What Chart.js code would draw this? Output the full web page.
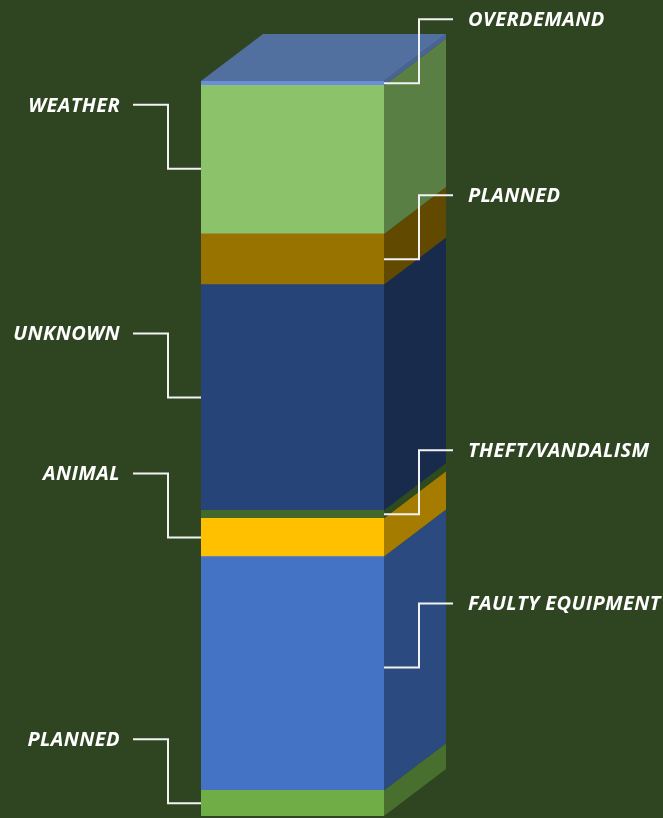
<!DOCTYPE html>
<html>
<head>
<meta charset="utf-8">
<script src="https://cdn.jsdelivr.net/npm/chart.js@4"></script>
<style>
  html, body { margin: 0; padding: 0; background: #2F4421; }
  canvas { display: block; }
</style>
</head>
<body>
<canvas id="outageChart" width="663" height="818"></canvas>
<script>
// Outage causes, stacked bottom to top (share of total, %)
const causes = ["PLANNED", "FAULTY EQUIPMENT", "ANIMAL", "THEFT/VANDALISM", "UNKNOWN", "PLANNED", "WEATHER", "OVERDEMAND"];
const shares = [3.5, 31.8, 5.2, 1.1, 30.7, 6.9, 20.2, 0.6];
const labelSides = ["left", "right", "left", "right", "left", "right", "left", "right"];

// Colours for the front and side faces
const frontColors = ["#70AD47", "#4472C4", "#FFC000", "#43682B", "#264478", "#997300", "#8CC26A", "#6A8FD8"];
const sideColors = ["#496F2E", "#2B4B80", "#A67C00", "#2E4A1F", "#192B4C", "#614A00", "#5A7F45", "#4A6399"];
const topColor = "#52709F";

// 3D depth of the column
const depthX = 62;
const depthY = -47;
// small nudges of the callout anchor from the segment middle (px)
const anchorShift = [0, -6, 0, 0, 0, 0, 9, 0];

// Draw the side faces, top face and the callout labels
const columnPlugin = {
  id: "column3d",
  beforeDraw(chart) {
    const ctx = chart.ctx;
    ctx.save();
    ctx.fillStyle = "#2F4421";
    ctx.fillRect(0, 0, chart.width, chart.height);
    ctx.restore();
  },
  afterDatasetsDraw(chart) {
    const ctx = chart.ctx;
    ctx.save();
    chart.data.datasets.forEach((ds, i) => {
      const bar = chart.getDatasetMeta(i).data[0];
      const right = bar.x + bar.width / 2;
      ctx.fillStyle = sideColors[i];
      ctx.beginPath();
      ctx.moveTo(right, bar.y);
      ctx.lineTo(right + depthX, bar.y + depthY);
      ctx.lineTo(right + depthX, bar.base + depthY);
      ctx.lineTo(right, bar.base);
      ctx.closePath();
      ctx.fill();
    });

    // top face on the last segment
    const last = chart.getDatasetMeta(chart.data.datasets.length - 1).data[0];
    const l = last.x - last.width / 2;
    const r = last.x + last.width / 2;
    ctx.fillStyle = topColor;
    ctx.beginPath();
    ctx.moveTo(l, last.y);
    ctx.lineTo(l + depthX, last.y + depthY);
    ctx.lineTo(r + depthX, last.y + depthY);
    ctx.lineTo(r, last.y);
    ctx.closePath();
    ctx.fill();
    ctx.restore();
  },
  afterDraw(chart) {
    const ctx = chart.ctx;
    ctx.save();
    ctx.strokeStyle = "#F2F2F2";
    ctx.lineWidth = 2;
    ctx.fillStyle = "#FFFFFF";
    ctx.font = "italic bold 20px 'Open Sans'";
    ctx.letterSpacing = "0.4px";
    ctx.textBaseline = "alphabetic";
    chart.data.datasets.forEach((ds, i) => {
      const bar = chart.getDatasetMeta(i).data[0];
      const anchorY = (bar.y + bar.base) / 2 + anchorShift[i];
      const labelY = anchorY - 64;
      if (labelSides[i] === "left") {
        const left = bar.x - bar.width / 2;
        ctx.beginPath();
        ctx.moveTo(133, labelY);
        ctx.lineTo(168, labelY);
        ctx.lineTo(168, anchorY);
        ctx.lineTo(left, anchorY);
        ctx.stroke();
        ctx.textAlign = "right";
        ctx.fillText(ds.label, 120, labelY + 7);
      } else {
        const right = bar.x + bar.width / 2;
        ctx.beginPath();
        ctx.moveTo(right, anchorY);
        ctx.lineTo(419, anchorY);
        ctx.lineTo(419, labelY);
        ctx.lineTo(453, labelY);
        ctx.stroke();
        ctx.textAlign = "left";
        ctx.fillText(ds.label, 468, labelY + 7);
      }
    });
    ctx.restore();
  }
};

const ctx = document.getElementById("outageChart").getContext("2d");
new Chart(ctx, {
  type: "bar",
  data: {
    labels: [""],
    datasets: causes.map((name, i) => ({
      label: name,
      data: [shares[i]],
      backgroundColor: frontColors[i],
      borderWidth: 0,
      categoryPercentage: 1,
      barPercentage: 1
    }))
  },
  options: {
    responsive: false,
    animation: false,
    layout: { padding: { left: 201, right: 279, top: 81, bottom: 2 } },
    scales: {
      x: { display: false, stacked: true },
      y: { display: false, stacked: true, min: 0, max: 100 }
    },
    plugins: {
      legend: { display: false },
      tooltip: { enabled: false }
    }
  },
  plugins: [columnPlugin]
});
</script>
</body>
</html>
